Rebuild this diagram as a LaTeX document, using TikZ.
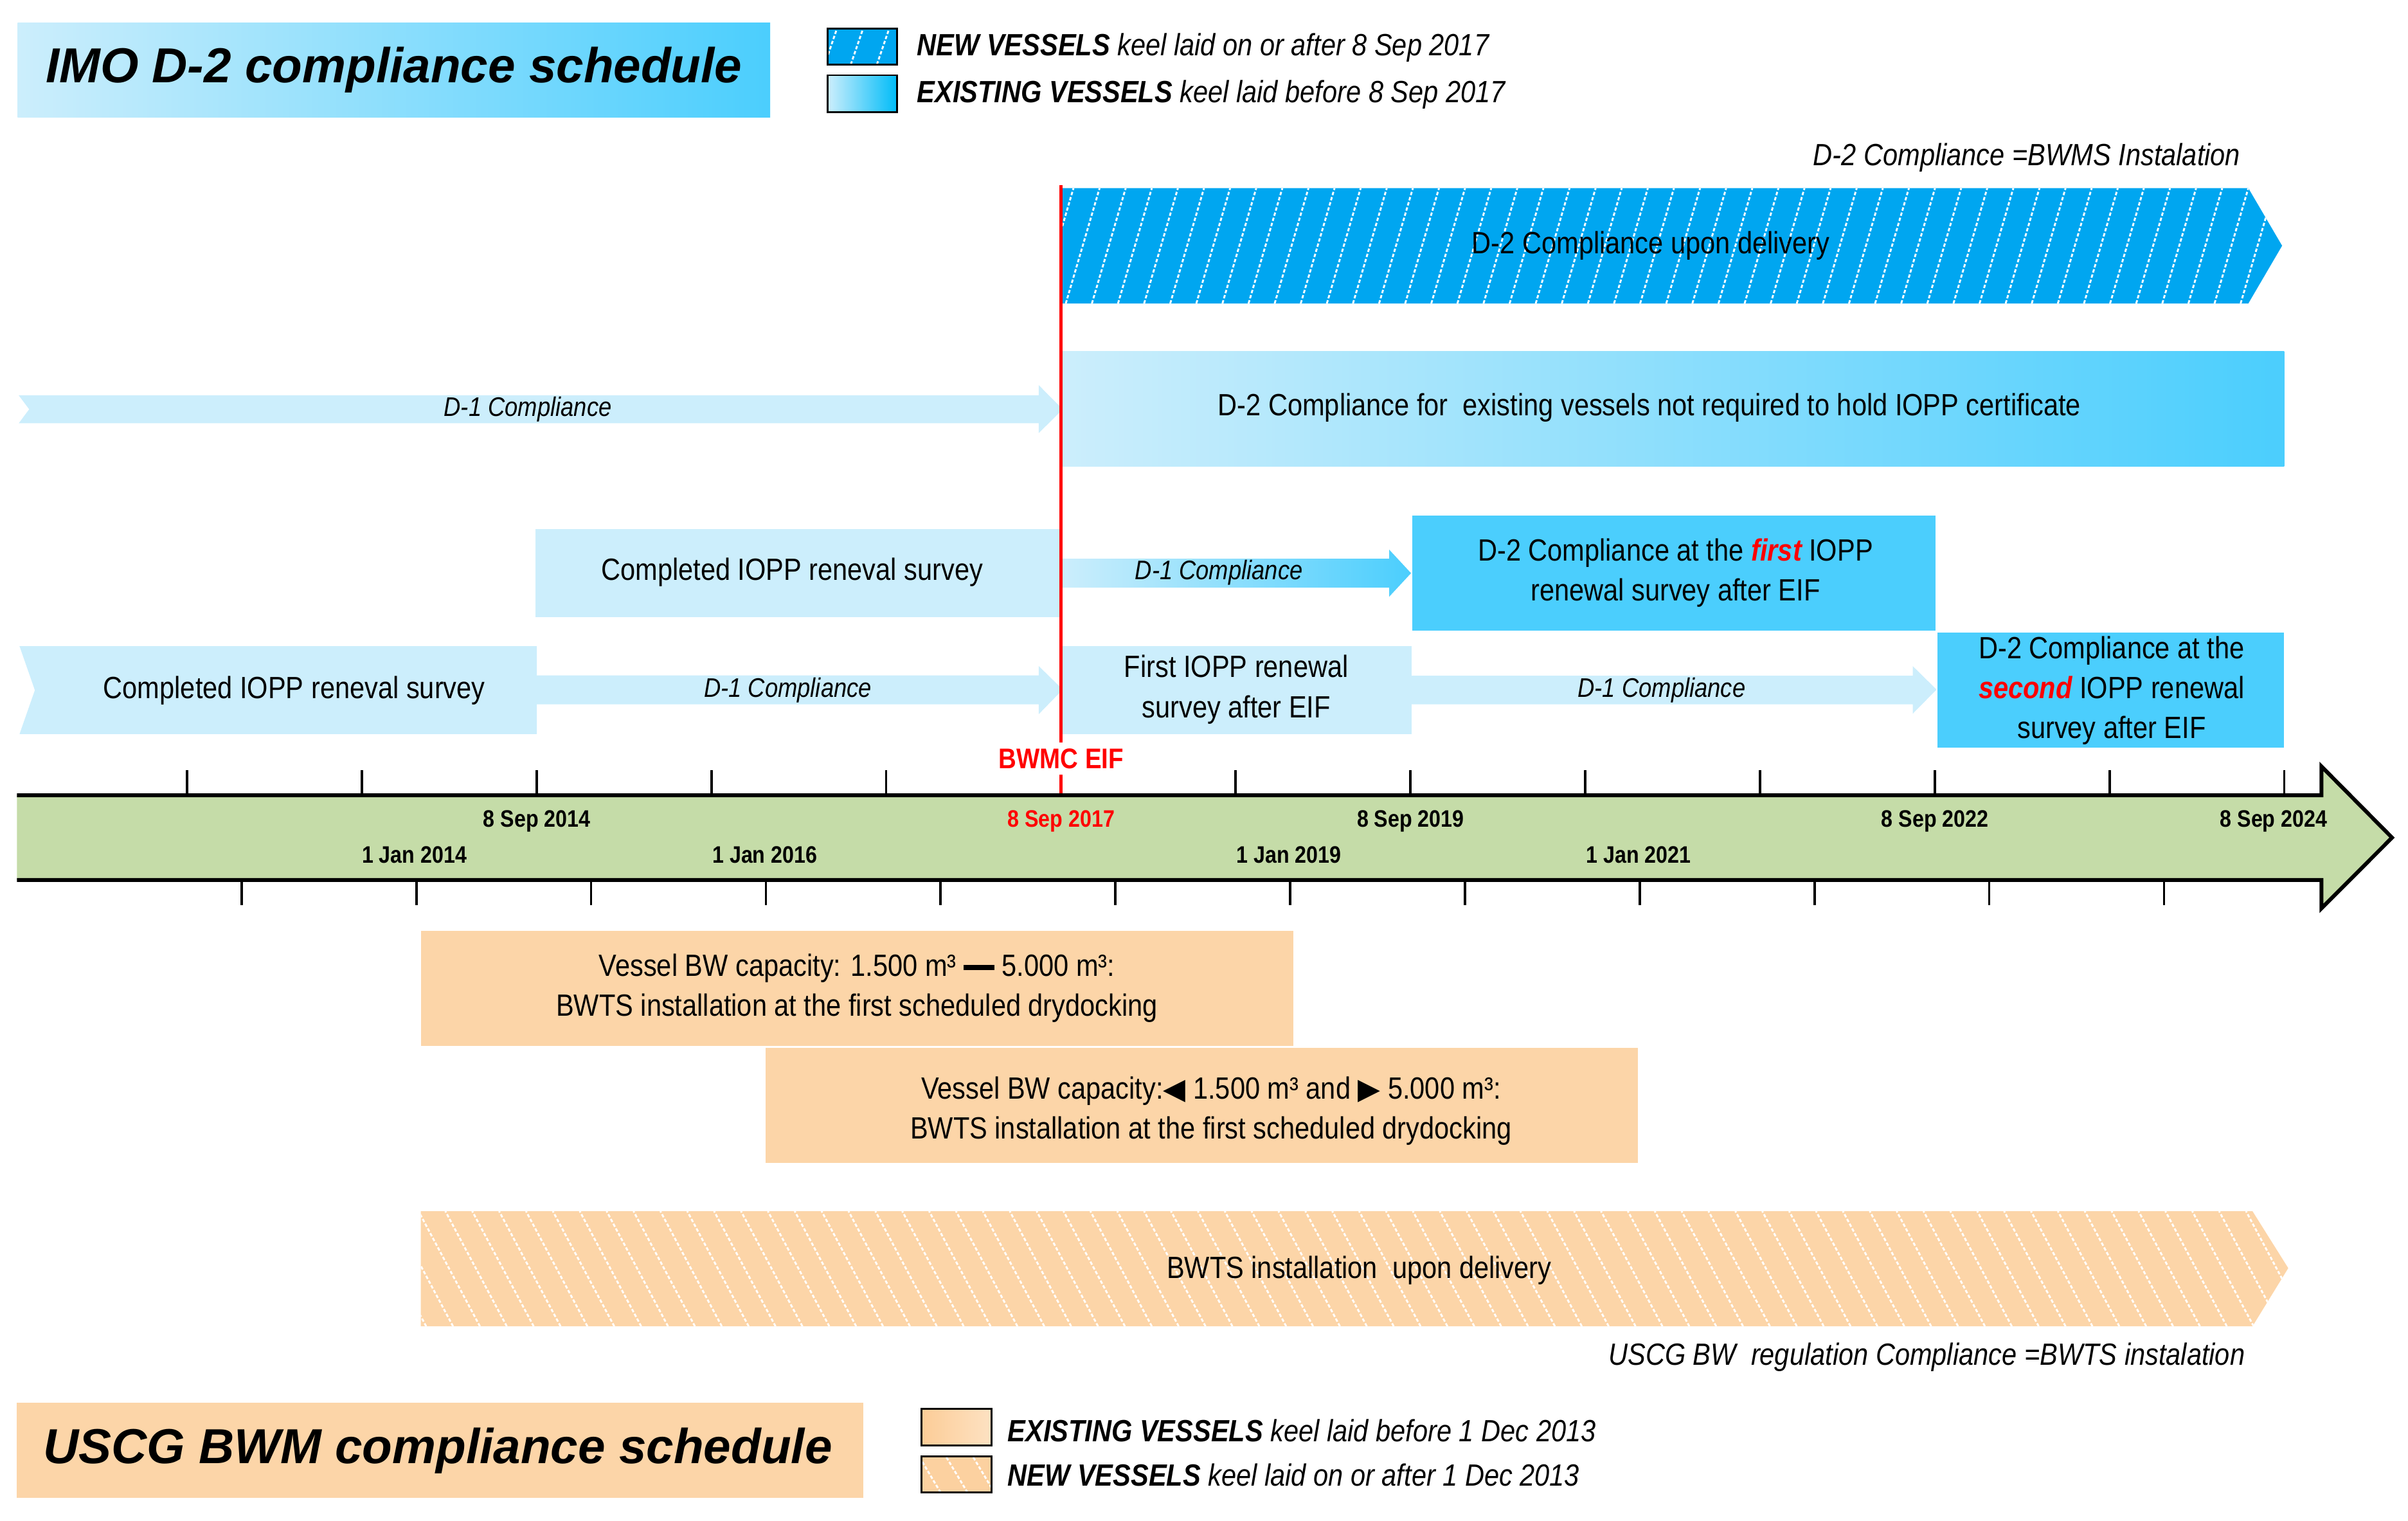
\documentclass[tikz,border=0pt]{standalone}
\usepackage{fontspec}
\setmainfont{Liberation Sans}
\newfontfamily\narrowf{Liberation Sans}[FakeStretch=0.87]
\newfontfamily\symf{DejaVu Sans}
\definecolor{lblue}{HTML}{CCEEFC}
\definecolor{mblue}{HTML}{4BCEFD}
\definecolor{hblue}{HTML}{00A6F0}
\definecolor{tgreen}{HTML}{C5DCA8}
\definecolor{peach}{HTML}{FCD5A8}
\definecolor{eifred}{HTML}{FF0000}
\definecolor{cyanleg}{HTML}{00BCF8}
\newcommand\myhatch[6]{%
  \foreach \hk in {0,...,#2}{%
    \draw[hatchline] ({#1+#6*\hk},#3) -- ({#1+#6*\hk+#5},#4);
  }}
\begin{document}
\begin{tikzpicture}[x=1pt,y=-1pt,
  body/.style={font=\narrowf\fontsize{20}{26}\selectfont, align=center, inner sep=0pt},
  note/.style={font=\narrowf\itshape\fontsize{20}{24}\selectfont, inner sep=0pt},
  done/.style={font=\narrowf\itshape\fontsize{17.5}{21}\selectfont, inner sep=0pt},
  datel/.style={font=\narrowf\bfseries\fontsize{15.5}{18}\selectfont, inner sep=0pt},
  titlet/.style={font=\bfseries\itshape\fontsize{32}{38}\selectfont, inner sep=0pt},
  legtext/.style={font=\narrowf\itshape\fontsize{20}{24}\selectfont, anchor=west, inner sep=0pt},
  legbox/.style={draw=black, line width=1.2pt},
  hatchline/.style={white, line width=1.2pt, dash pattern=on 2.2pt off 1.3pt},
  tickl/.style={line width=1.6pt},
]
\useasboundingbox (0,0) rectangle (1568,990);

% ---------- IMO title and legend ----------
\shade[left color=lblue, right color=mblue] (11.5,15) rectangle (501.5,76.5);
\node[titlet] (imotitle) at (256.5,45.5) {IMO D-2 compliance schedule};

\begin{scope}
  \clip (539,18.6) rectangle (584,42);
  \fill[hblue] (539,18.6) rectangle (584,42);
  \myhatch{520}{5}{42}{18.6}{8}{17}
\end{scope}
\draw[legbox] (539,18.6) rectangle (584,42);
\shade[left color=lblue, middle color=cyanleg, right color=cyanleg] (539,49) rectangle (584,73);
\draw[legbox] (539,49) rectangle (584,73);
\node[legtext] (legnew) at (597,31) {\bfseries NEW VESSELS\mdseries\ keel laid on or after 8 Sep 2017};
\node[legtext] (legexist) at (597,61.5) {\bfseries EXISTING VESSELS\mdseries\ keel laid before 8 Sep 2017};

\node[note, anchor=east] (imonote) at (1459,102.6) {D-2 Compliance =BWMS Instalation};

% ---------- row 1: new vessels ----------
\begin{scope}
  \clip (691,122.5) -- (1464,122.5) -- (1486,160) -- (1464,197.6) -- (691,197.6) -- cycle;
  \fill[hblue] (680,110) rectangle (1500,210);
  \myhatch{660}{50}{197.6}{122.5}{22}{17}
\end{scope}
\node[body] (newdel) at (1075,160) {D-2 Compliance upon delivery};

% ---------- row 2 ----------
\fill[lblue] (12.2,257.4) -- (676.4,257.4) -- (676.4,250.8) -- (692,266.5) -- (676.4,282) -- (676.4,275.6) -- (12.2,275.6) -- (19,266.5) -- cycle;
\node[done] (r2d1) at (343.7,266.5) {D-1 Compliance};
\shade[left color=lblue, right color=mblue] (691.5,228.8) rectangle (1487.3,303.8);
\node[body] (r2d2) at (1074,265.5) {D-2 Compliance for\ \ existing vessels not required to hold IOPP certificate};

% ---------- row 3 ----------
\fill[lblue] (348.7,344.5) rectangle (690,401.8);
\node[body] (r3done) at (515.8,372.6) {Completed IOPP reneval survey};
\shade[left color=lblue, right color=mblue] (691.5,363.8) -- (904.6,363.8) -- (904.6,357.9) -- (918.8,373.2) -- (904.6,388.5) -- (904.6,382.6) -- (691.5,382.6) -- cycle;
\node[done] (r3d1) at (793.7,372.8) {D-1 Compliance};
\fill[mblue] (919.6,335.7) rectangle (1260.4,410.5);
\node[body] (r3d2) at (1091,373) {D-2 Compliance at the {\color{eifred}\bfseries\itshape first} IOPP\\renewal survey after EIF};

% ---------- row 4 ----------
\fill[lblue] (12.7,420.7) -- (349.6,420.7) -- (349.6,478) -- (12.7,478) -- (22.7,449.4) -- cycle;
\node[body] (r4done) at (191.6,449.5) {Completed IOPP reneval survey};
\fill[lblue] (349.6,439.8) -- (676.4,439.8) -- (676.4,433.7) -- (692,449) -- (676.4,465) -- (676.4,458.6) -- (349.6,458.6) -- cycle;
\node[done] (r4d1a) at (513,449.3) {D-1 Compliance};
\fill[lblue] (691.5,420.7) rectangle (919,478);
\node[body] (r4first) at (805,449) {First IOPP renewal\\survey after EIF};
\fill[lblue] (919,440) -- (1245.5,440) -- (1245.5,433.7) -- (1261,449) -- (1245.5,464.7) -- (1245.5,458.6) -- (919,458.6) -- cycle;
\node[done] (r4d1b) at (1082,449.3) {D-1 Compliance};
\fill[mblue] (1261.5,412) rectangle (1487.3,486.7);
\node[body] (r4d2) at (1375,449.5) {D-2 Compliance at the\\{\color{eifred}\bfseries\itshape second} IOPP renewal\\survey after EIF};

% ---------- BWMC EIF line ----------
\draw[eifred, line width=2pt] (691,120.5) -- (691,518.6);
\node[font=\narrowf\bfseries\fontsize{18.5}{22}\selectfont, text=eifred, fill=white, inner xsep=1pt, inner ysep=4pt] (eif) at (691,494) {BWMC EIF};

% ---------- timeline ----------
\fill[tgreen] (11,517.8) -- (1511.6,517.8) -- (1511.6,499) -- (1557.6,545.4) -- (1511.6,591.5) -- (1511.6,573) -- (11,573) -- cycle;
\draw[line width=2.5pt, line join=miter] (11,517.8) -- (1511.6,517.8) -- (1511.6,499) -- (1557.6,545.4) -- (1511.6,591.5) -- (1511.6,573) -- (11,573);
\foreach \k in {0,...,12}{%
  \ifnum\k=5\relax\else
    \draw[tickl] ({121.8+113.8*\k},501.5) -- ({121.8+113.8*\k},517.8);
  \fi}
\foreach \k in {0,...,11}{%
  \draw[tickl] ({157.3+113.8*\k},573) -- ({157.3+113.8*\k},589.5);}
\node[datel] (d14) at (349.6,534.6) {8 Sep 2014};
\node[datel, text=eifred] (d17) at (691,534.6) {8 Sep 2017};
\node[datel] (d19) at (918.5,534.6) {8 Sep 2019};
\node[datel] (d22) at (1260,534.6) {8 Sep 2022};
\node[datel] (d24) at (1480.5,534.6) {8 Sep 2024};
\node[datel] (j14) at (269.8,556.4) {1 Jan 2014};
\node[datel] (j16) at (498,556.4) {1 Jan 2016};
\node[datel] (j19) at (839.3,556.4) {1 Jan 2019};
\node[datel] (j21) at (1067,556.4) {1 Jan 2021};

% ---------- USCG rows ----------
\fill[peach] (274,606) rectangle (842,681);
\node[body] (u1) at (558,643.5) {Vessel BW capacity: 1.500 m³ \raisebox{0.2em}{\rule{1em}{0.16em}} 5.000 m³:\\BWTS installation at the first scheduled drydocking};
\fill[peach] (498.4,682.3) rectangle (1066.4,757.2);
\node[body] (u2) at (788.6,723.5) {Vessel BW capacity:{\symf\fontsize{19}{20}\selectfont ◀} 1.500 m³ and {\symf\fontsize{19}{20}\selectfont ▶} 5.000 m³:\\BWTS installation at the first scheduled drydocking};
\begin{scope}
  \clip (274,788.6) -- (1466.7,788.6) -- (1490,825.7) -- (1466.7,863.6) -- (274,863.6) -- cycle;
  \fill[peach] (260,780) rectangle (1500,870);
  \myhatch{260}{72}{863.6}{788.6}{-40}{17.5}
\end{scope}
\node[body] (u3) at (885,827) {BWTS installation\ \ upon delivery};
\node[note, anchor=east] (uscgnote) at (1462,883.5) {USCG BW\ \ regulation Compliance =BWTS instalation};

% ---------- USCG title and legend ----------
\fill[peach] (11,913.5) rectangle (562,975.3);
\node[titlet] (uscgtitle) at (285,944.5) {USCG BWM compliance schedule};
\shade[left color=peach!90!orange, right color=peach!70!white] (600,917.4) rectangle (645.6,941);
\draw[legbox] (600,917.4) rectangle (645.6,941);
\begin{scope}
  \clip (600,948.4) rectangle (645.6,971.8);
  \fill[peach!95!orange] (600,948.4) rectangle (645.6,971.8);
  \myhatch{595}{5}{971.8}{948.4}{-14}{17.5}
\end{scope}
\draw[legbox] (600,948.4) rectangle (645.6,971.8);
\node[legtext] (legexist2) at (656,931.4) {\bfseries EXISTING VESSELS\mdseries\ keel laid before 1 Dec 2013};
\node[legtext] (legnew2) at (656,960.5) {\bfseries NEW VESSELS\mdseries\ keel laid on or after 1 Dec 2013};
\end{tikzpicture}
\end{document}
